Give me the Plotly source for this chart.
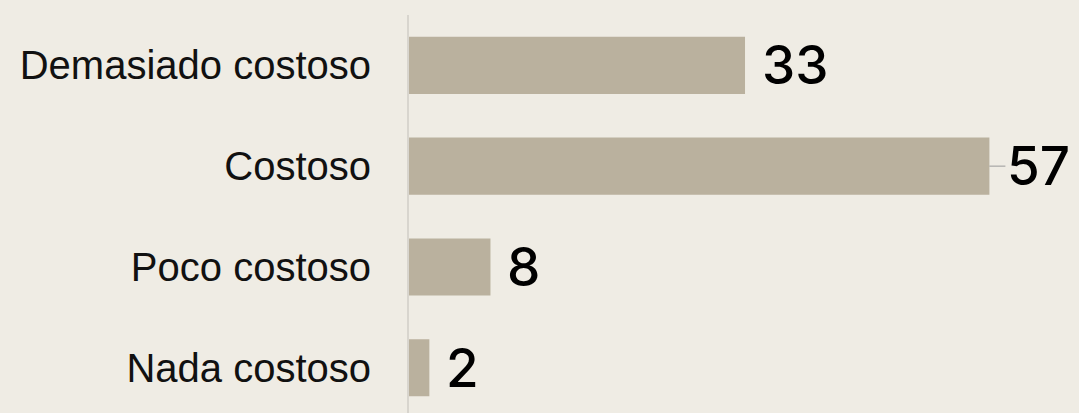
import plotly.graph_objects as go

categories = ["Demasiado costoso", "Costoso", "Poco costoso", "Nada costoso"]
values = [33, 57, 8, 2]

BG = "#EFECE4"
BAR = "#BAB19E"

fig = go.Figure()
fig.add_trace(go.Bar(
    x=values, y=categories, orientation="h",
    marker=dict(color=BAR, line=dict(width=0)),
    hoverinfo="skip",
))

num_font = dict(family="Inter", size=53, color="#000000", weight=500)
for cat, val in zip(categories, values):
    if val == max(values):
        # long bar: label sits past a small leader line
        fig.add_annotation(x=val, y=cat, text=str(val), showarrow=True,
                           arrowhead=0, arrowwidth=1, arrowcolor="#9A9A9A",
                           ax=16, ay=0, xanchor="left", font=num_font)
    else:
        fig.add_annotation(x=val, y=cat, text=str(val), showarrow=False,
                           xanchor="left", xshift=15, font=num_font)

fig.update_layout(
    width=1079, height=413,
    paper_bgcolor=BG, plot_bgcolor=BG,
    margin=dict(l=409, r=0, t=15, b=0),
    bargap=0.434,
    showlegend=False,
)
fig.update_xaxes(range=[0, 65.8], visible=False, showgrid=False, zeroline=False)
fig.update_yaxes(
    categoryorder="array", categoryarray=categories,
    range=[3.45, -0.5],
    showline=True, linecolor="#D8D5CE", linewidth=2,
    showgrid=False, zeroline=False, ticks="",
    ticklabelstandoff=28,
    tickfont=dict(family="Liberation Sans", size=40, color="#111111"),
)

fig.write_html("out.html", config={"displayModeBar": False},
               post_script="document.body.style.margin='0';")
